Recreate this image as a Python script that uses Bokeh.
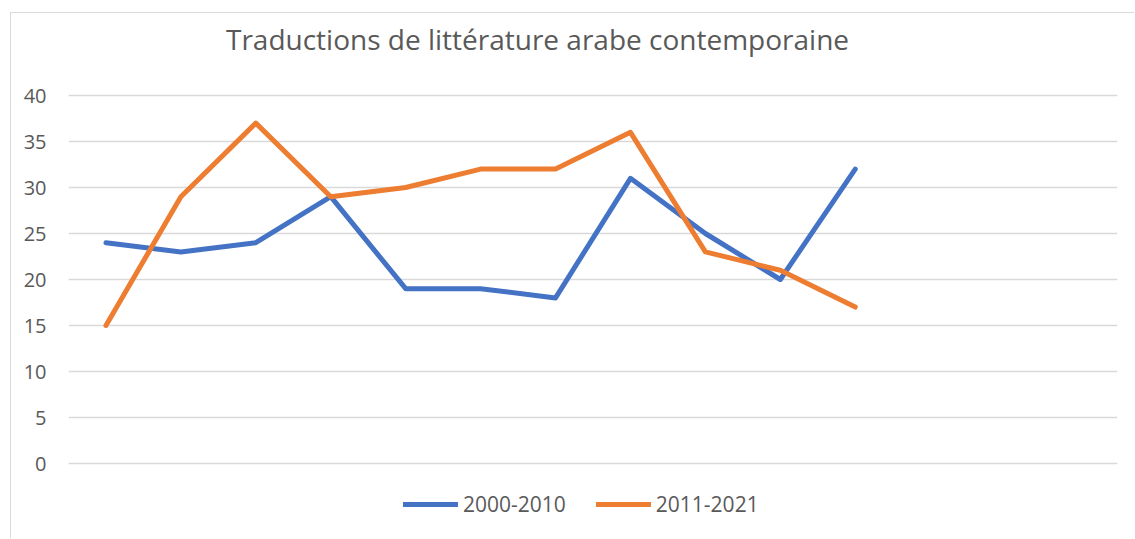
from bokeh.plotting import figure
from bokeh.models import Range1d, FactorRange, Legend, LegendItem, Label
from bokeh.embed import file_html
from bokeh.resources import INLINE

# ---- data ----
categories = [str(i) for i in range(1, 15)]          # 14 unlabeled category slots
series_2000_2010 = [24, 23, 24, 29, 19, 19, 18, 31, 25, 20, 32]
series_2011_2021 = [15, 29, 37, 29, 30, 32, 32, 36, 23, 21, 17]
series_names = ["2000-2010", "2011-2021"]
y_ticks = [0, 5, 10, 15, 20, 25, 30, 35, 40]
title_text = "Traductions de littérature arabe contemporaine"

FONT = "Open Sans"
GREY = "#595959"

PX = 9.2  # pixels per unit
p = figure(
    width=1124, height=526,
    x_range=FactorRange(*categories),
    y_range=Range1d(-(526 - 450) / PX, 40 + 82 / PX),
    output_backend="svg", toolbar_location=None,
    min_border_left=57, min_border_right=18,
    min_border_top=0, min_border_bottom=0,
    background_fill_color="white", border_fill_color="white",
)
p.margin = (12, 0, 0, 10)
p.styles = {"border-left": "1px solid #D9D9D9", "border-top": "1px solid #D9D9D9"}
p.outline_line_color = None

p.xaxis.visible = False
p.xgrid.visible = False
p.yaxis.ticker = y_ticks
p.yaxis.axis_line_color = None
p.yaxis.major_tick_line_color = None
p.yaxis.minor_tick_line_color = None
p.yaxis.major_label_text_font = FONT
p.yaxis.major_label_text_font_size = "20px"
p.yaxis.major_label_text_color = GREY
p.yaxis.major_label_standoff = 16
p.ygrid.ticker = y_ticks
p.ygrid.grid_line_color = "#D9D9D9"
p.ygrid.grid_line_width = 1.3

r1 = p.line(categories[:len(series_2000_2010)], series_2000_2010,
            line_color="#4472C4", line_width=5, line_cap="round", line_join="round")
r2 = p.line(categories[:len(series_2011_2021)], series_2011_2021,
            line_color="#ED7D31", line_width=5, line_cap="round", line_join="round")

title = Label(x=469, y=40 + 57 / PX, x_units="screen", y_units="data",
              text=title_text, text_font=FONT, text_font_size="28px",
              text_color=GREY, text_align="center", text_baseline="middle")
p.add_layout(title)

legend = Legend(items=[LegendItem(label=series_names[0], renderers=[r1]),
                       LegendItem(label=series_names[1], renderers=[r2])],
                orientation="horizontal", location=(335, 21))
legend.border_line_color = None
legend.background_fill_alpha = 0
legend.glyph_width = 55
legend.glyph_height = 20
legend.label_standoff = 5
legend.spacing = 30
legend.padding = 0
legend.margin = 0
legend.label_text_font = FONT
legend.label_text_font_size = "21px"
legend.label_text_color = GREY
p.add_layout(legend, "center")

open("out.html", "w").write(file_html(p, INLINE))
